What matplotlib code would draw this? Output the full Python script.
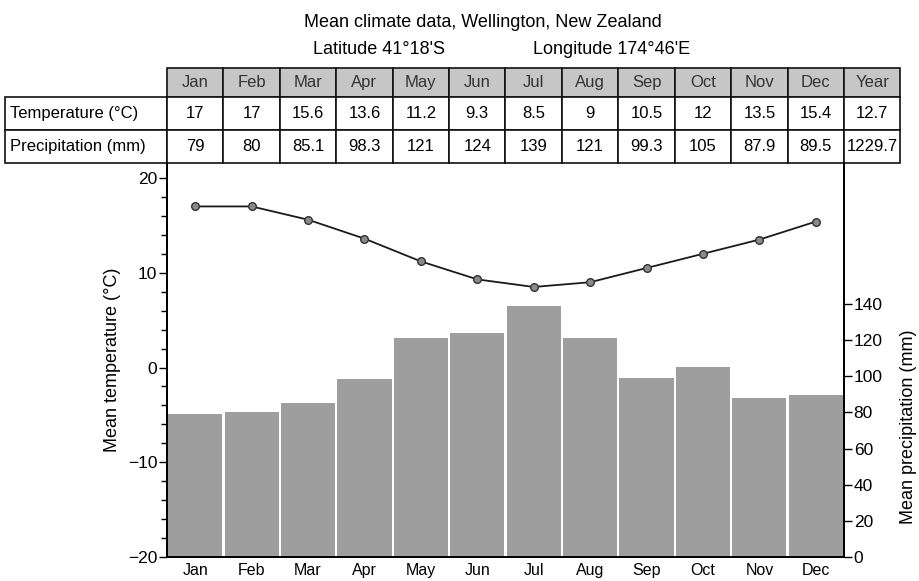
import matplotlib
matplotlib.use("Agg")
import matplotlib.pyplot as plt
from matplotlib.ticker import MultipleLocator

plt.rcParams['font.family'] = ['Liberation Sans', 'DejaVu Sans']

# data
months = ['Jan', 'Feb', 'Mar', 'Apr', 'May', 'Jun', 'Jul', 'Aug', 'Sep', 'Oct', 'Nov', 'Dec']
temperature = [17, 17, 15.6, 13.6, 11.2, 9.3, 8.5, 9, 10.5, 12, 13.5, 15.4]
precipitation = [79, 80, 85.1, 98.3, 121, 124, 139, 121, 99.3, 105, 87.9, 89.5]
year_temp = '12.7'
year_precip = '1229.7'
temp_labels = ['17', '17', '15.6', '13.6', '11.2', '9.3', '8.5', '9', '10.5', '12', '13.5', '15.4']
precip_labels = ['79', '80', '85.1', '98.3', '121', '124', '139', '121', '99.3', '105', '87.9', '89.5']

fig = plt.figure(figsize=(9.2, 5.81), dpi=100)
ax = fig.add_axes([0.1815, 0.0413, 0.7359, 0.6781])
ax2 = ax.twinx()

x = list(range(len(months)))

# precipitation bars on the right axis
ax2.bar(x, precipitation, width=0.96, color='#9e9e9e', edgecolor='none', zorder=1)
ax2.set_ylim(0, 218)
ax2.set_yticks([0, 20, 40, 60, 80, 100, 120, 140])
ax2.tick_params(axis='y', direction='out', length=6, width=1, labelsize=12.5, pad=1)
ax2.set_ylabel('Mean precipitation (mm)', fontsize=13)
ax2.yaxis.set_label_coords(1.082, 0.33)

# temperature line on the left axis (drawn on top)
ax.set_zorder(ax2.get_zorder() + 1)
ax.patch.set_visible(False)
ax.plot(x, temperature, color='#1a1a1a', lw=1.3, marker='o', markersize=5.5,
        markerfacecolor='#8a8a8a', markeredgecolor='#333333', markeredgewidth=1)
ax.set_ylim(-20, 21.58)
ax.set_xlim(-0.5, 11.5)
ax.set_yticks([-20, -10, 0, 10, 20])
ax.yaxis.set_minor_locator(MultipleLocator(2))
ax.tick_params(axis='y', which='major', direction='out', length=6, width=1, labelsize=12.5, pad=1)
ax.tick_params(axis='y', which='minor', direction='out', length=4, width=1)
ax.set_ylabel('Mean temperature (°C)', fontsize=13)
ax.yaxis.set_label_coords(-0.068, 0.5)
ax.set_xticks(x)
ax.set_xticklabels(months, fontsize=11.5)
ax.tick_params(axis='x', length=0, pad=4)

for a in (ax, ax2):
    a.spines['top'].set_visible(False)
    for s in ('left', 'right', 'bottom'):
        a.spines[s].set_linewidth(1.3)

# data table above the axes
cell_text = [['Temperature (°C)'] + temp_labels + [year_temp],
             ['Precipitation (mm)'] + precip_labels + [year_precip]]
col_labels = [''] + months + ['Year']
label_w = 0.2393
col_w = 1 / 12
tbl = ax.table(cellText=cell_text, colLabels=col_labels,
               colWidths=[label_w] + [col_w] * 13,
               cellLoc='center', bbox=[-label_w, 1.0, label_w + 13 * col_w, 0.2411])
tbl.auto_set_font_size(False)
tbl.set_fontsize(12)
for (r, c), cell in tbl.get_celld().items():
    cell.set_linewidth(1.2)
    cell.set_edgecolor('#111111')
    if r == 0:
        cell.set_height(29)
        if c == 0:
            cell.set_visible(False)
        else:
            cell.set_facecolor('#c6c6c6')
            cell.get_text().set_color('#333333')
    else:
        cell.set_height(33)
    if c == 0 and r > 0:
        cell.get_text().set_ha('left')
        cell.PAD = 0.03

fig.text(0.525, 0.962, 'Mean climate data, Wellington, New Zealand', ha='center', va='center', fontsize=13)
fig.text(0.4125, 0.914, 'Latitude 41°18\'S', ha='center', va='center', fontsize=13)
fig.text(0.665, 0.914, 'Longitude 174°46\'E', ha='center', va='center', fontsize=13)

fig.savefig('out.png', dpi=100)
